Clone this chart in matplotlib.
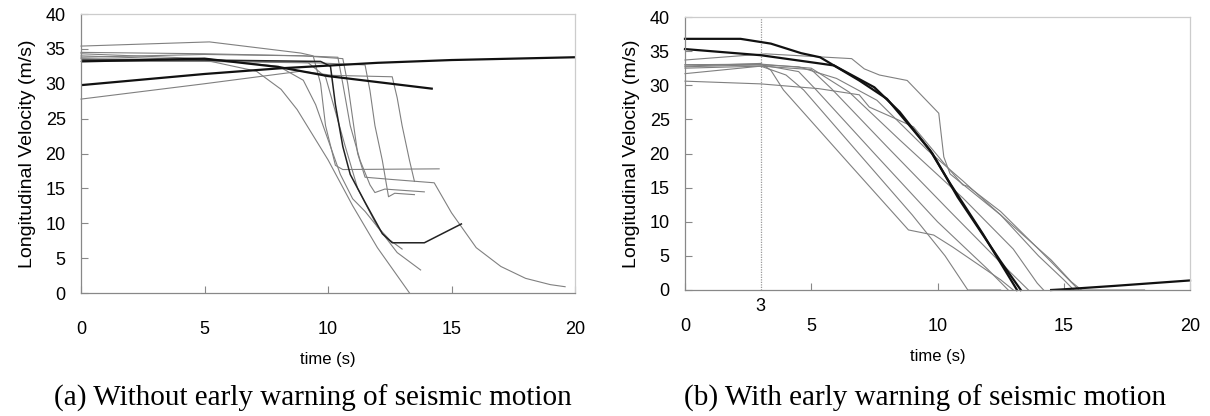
import numpy as np
import matplotlib.pyplot as plt

# --- Data (time s, velocity m/s) ---
# (a) without early warning
a_black_t = [[0, 5, 8, 10, 12, 15, 20],
             [0, 5, 8, 10, 14.2]]
a_black_v = [[29.8, 31.4, 32.2, 32.6, 33.0, 33.4, 33.8],
             [33.2, 33.6, 32.4, 31.1, 29.3]]
a_dark_t = [0, 5, 9.7, 10.1, 10.3, 10.6, 10.9, 11.5, 12.2, 12.6, 13.9, 15.4]
a_dark_v = [33.4, 33.4, 33.2, 32.5, 27, 21, 17, 13, 8.5, 7.2, 7.2, 9.9]

a_gray_t = [
    [0, 5.2, 8.9, 9.4, 9.7, 9.9, 10.3, 10.6, 14.5],
    [0, 5, 7.1, 8.1, 8.75, 10, 11, 12, 13.3],
    [0, 5, 9, 10.6, 10.8, 11.0, 11.2, 11.5, 12.5, 14.3, 15, 16, 17, 18, 19, 19.6],
    [0, 5, 8.9, 10.2, 12.6, 12.8, 13.0, 13.3, 13.5],
    [0, 5, 9, 10.4, 10.6, 10.9, 11.3, 11.7, 11.9, 12.3, 13.9],
    [0, 5, 9.5, 11.5, 11.7, 11.9, 12.2, 12.45, 12.7, 13.5],
    [0, 5, 9.2, 9.9, 10.3, 10.7, 11.2, 12, 12.8, 13.75],
    [0, 5, 8, 9, 9.5, 10, 10.5, 11, 11.5, 12, 12.5, 13.0],
]
a_gray_v = [
    [35.4, 36.0, 34.4, 34.0, 30, 24, 18.3, 17.7, 17.8],
    [34.0, 33.4, 31.8, 29.2, 26.3, 19.1, 12.5, 6.5, 0],
    [33.8, 34.2, 34.0, 33.6, 30, 25, 20, 16.6, 16.3, 15.8, 11.5, 6.5, 3.8, 2.1, 1.2, 0.9],
    [27.8, 30.0, 31.8, 31.2, 31.0, 28, 24, 19, 16],
    [34.5, 34.3, 34.0, 33.8, 30, 24, 19, 15.5, 14.4, 14.9, 14.5],
    [33.6, 33.4, 33.0, 32.7, 29, 24, 19, 13.8, 14.3, 14.1],
    [33.2, 33.2, 33.0, 31, 26, 21, 15, 9.5, 5.8, 3.3],
    [34.3, 33.6, 32.5, 30.5, 27, 22, 17, 13.5, 11.7, 9.5, 7.6, 6.3],
]

# (b) with early warning
b_black_t = [[0, 2.2, 3.4, 4.6, 5.35, 6.9, 8, 9.05, 9.7, 10.5, 11.8, 13.15],
             [0, 3, 5.9, 7.5, 8.5, 9.8, 10.8, 12.5, 13.3],
             [14.5, 15, 17, 20]]
b_black_v = [[36.8, 36.8, 36.1, 34.7, 34.1, 30.7, 28, 23.4, 20.5, 15.6, 8.2, 0],
             [35.3, 34.4, 32.9, 29.7, 26.1, 20, 13.6, 4.2, 0],
             [0, 0.1, 0.6, 1.4]]

b_gray_t = [
    [0, 3.2, 6.6, 7.1, 7.7, 8.8, 10.05, 10.25, 10.5, 11, 12.5, 14, 15.0, 15.4, 18.2],
    [0, 3, 5.3, 6.9, 7.3, 8.4, 9.05, 10.25, 11.0, 11.2, 12.5, 14, 15.6],
    [0, 3, 4.5, 6, 7.6, 8.5, 9.6, 11, 12.5, 14.5, 15.3, 15.7],
    [0, 3, 3.4, 3.9, 6.5, 8.85, 9.85, 10.6, 12.5, 13.0],
    [0, 3, 4.0, 4.7, 7, 9, 10.3, 11.2, 12.5],
    [0, 3, 4.5, 5.2, 7.5, 10, 12.0, 12.8],
    [0, 3, 5, 5.8, 8, 10.5, 12.5, 13.6],
    [0, 3, 5, 6.5, 8.5, 11, 13, 13.95, 14.2],
]
b_gray_v = [
    [33.7, 34.6, 33.9, 32.4, 31.5, 30.7, 25.9, 19.5, 17.0, 15.5, 11, 5, 1.5, 0, 0],
    [30.6, 30.2, 29.5, 28.6, 26.8, 25.0, 23.9, 18.6, 15.4, 15.2, 11.5, 6, 0],
    [33.0, 33.0, 32.7, 31.0, 27.8, 24.5, 20.5, 16.0, 11.0, 4.4, 1.2, 0],
    [32.8, 33.2, 32.2, 29.3, 18.5, 8.8, 8.05, 6.3, 1.5, 0],
    [32.5, 32.8, 31.5, 29.3, 19.5, 11, 5, 0, 0],
    [32.7, 33.0, 32.0, 29.3, 20, 10, 3, 0],
    [31.7, 32.8, 32.3, 29.5, 21, 11.5, 4, 0],
    [33.0, 33.1, 32.5, 29.0, 22, 13.5, 6, 1, 0],
]

x_ticks = [0, 5, 10, 15, 20]
y_ticks = [0, 5, 10, 15, 20, 25, 30, 35, 40]
warn_time = 3
captions = ["(a) Without early warning of seismic motion",
            "(b) With early warning of seismic motion"]

plt.rcParams['font.family'] = ['Liberation Sans', 'DejaVu Sans']

fig = plt.figure(figsize=(12.1, 4.16), dpi=100)
ax_a = fig.add_axes([81 / 1210, 123 / 416, 494 / 1210, 279 / 416])
ax_b = fig.add_axes([685 / 1210, 126 / 416, 505 / 1210, 273 / 416])


def style_axes(ax):
    ax.set_xlim(0, 20)
    ax.set_ylim(0, 40)
    ax.set_xticks(x_ticks)
    ax.set_yticks(y_ticks)
    ax.tick_params(direction='in', length=5, width=0.8, color='#888888',
                   labelsize=13)
    ax.tick_params(axis='x', pad=20)
    ax.tick_params(axis='y', pad=11)
    for s in ['left', 'bottom']:
        ax.spines[s].set_color('#888888')
        ax.spines[s].set_linewidth(0.9)
    for s in ['top', 'right']:
        ax.spines[s].set_color('#cccccc')
        ax.spines[s].set_linewidth(0.9)
    ax.set_xlabel("time (s)", fontsize=12, labelpad=10)
    ax.set_ylabel("Longitudinal Velocity (m/s)", fontsize=14, labelpad=7)


for t, v in zip(a_gray_t, a_gray_v):
    ax_a.plot(t, v, color='#808080', lw=0.8, clip_on=False)
ax_a.plot(a_dark_t, a_dark_v, color='#222222', lw=1.1)
for t, v in zip(a_black_t, a_black_v):
    ax_a.plot(t, v, color='#111111', lw=1.6)

ax_b.axvline(warn_time, color='#999999', lw=0.9, ls=(0, (1, 1)))
for t, v in zip(b_gray_t, b_gray_v):
    ax_b.plot(t, v, color='#808080', lw=0.8, clip_on=False)
for t, v in zip(b_black_t, b_black_v):
    ax_b.plot(t, v, color='#111111', lw=1.6, clip_on=False)

style_axes(ax_a)
style_axes(ax_b)
ax_b.text(warn_time, -0.03, str(warn_time), transform=ax_b.get_xaxis_transform(),
          ha='center', va='top', fontsize=13)

fig.text(313 / 1210, 1 - 398 / 416, captions[0], ha='center', va='center',
         fontsize=21, family='Liberation Serif')
fig.text(925 / 1210, 1 - 398 / 416, captions[1], ha='center', va='center',
         fontsize=21, family='Liberation Serif')

fig.savefig("out.png", dpi=100)
